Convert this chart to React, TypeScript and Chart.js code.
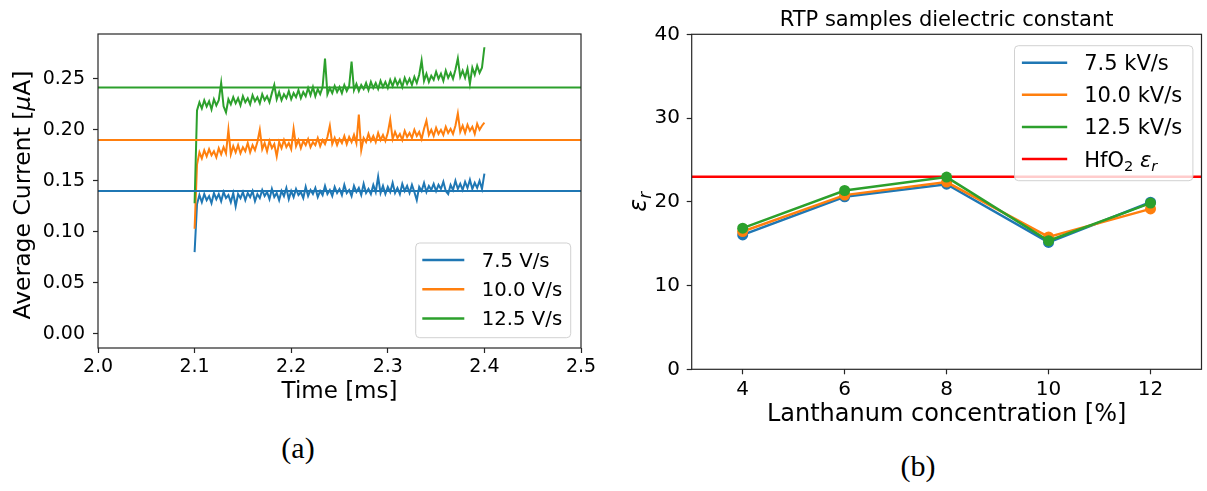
import React, { useEffect, useRef } from "react";
import { Chart, registerables } from "chart.js";
Chart.register(...registerables);

const FONT = '"DejaVu Sans", "Noto Sans", sans-serif';
const COLORS = ["#1f77b4", "#ff7f0e", "#2ca02c"];
const HFO2_COLOR = "#ff0000";
const SPINE = "#262626";

// ---------------- (a) Average current vs time ----------------
const sampleStartMs = 2.1;
const sampleStepMs = 0.0025;
// values in nA (1000 nA = 1 µA)
const current75nA = [
  80, 127, 136, 129, 137, 131, 135, 128, 138, 132,
  137, 130, 139, 133, 136, 129, 138, 125, 137, 133,
  139, 131, 138, 134, 140, 130, 137, 133, 141, 135,
  139, 132, 142, 134, 138, 131, 140, 135, 143, 132,
  140, 134, 142, 136, 139, 133, 144, 135, 141, 137,
  143, 134, 140, 136, 145, 137, 141, 135, 144, 138,
  142, 136, 146, 138, 141, 135, 145, 139, 143, 136,
  147, 138, 142, 137, 146, 139, 154, 138, 145, 137,
  144, 139, 148, 138, 143, 137, 147, 140, 145, 138,
  146, 139, 131, 144, 140, 148, 139, 145, 141, 147,
  140, 146, 142, 149, 140, 137, 146, 141, 150, 142,
  147, 141, 149, 143, 151, 142, 148, 143, 150, 142,
  157,
];
const current100nA = [
  103, 166, 178, 172, 180, 174, 181, 175, 179, 173,
  182, 176, 183, 177, 200, 176, 184, 178, 185, 177,
  183, 179, 187, 178, 185, 180, 188, 200, 181, 187,
  179, 189, 182, 186, 174, 188, 182, 190, 183, 187,
  181, 201, 184, 190, 182, 189, 185, 191, 183, 188,
  185, 192, 184, 190, 186, 193, 204, 186, 192, 185,
  191, 187, 194, 186, 193, 188, 195, 187, 215, 180,
  192, 188, 196, 189, 194, 188, 197, 190, 195, 189,
  197, 210, 191, 198, 192, 196, 190, 199, 193, 197,
  192, 200, 194, 198, 191, 201, 209, 195, 200, 194,
  202, 196, 200, 195, 203, 197, 201, 196, 204, 216,
  198, 204, 197, 205, 199, 203, 196, 206, 200, 204,
  207,
];
const current125nA = [
  128, 219, 227, 221, 229, 223, 228, 220, 230, 224,
  229, 246, 223, 217, 230, 225, 232, 226, 231, 224,
  233, 227, 231, 225, 234, 228, 232, 226, 235, 229,
  233, 227, 236, 244, 230, 237, 229, 235, 231, 238,
  230, 236, 232, 239, 231, 237, 233, 241, 234, 242,
  233, 240, 235, 242, 270, 235, 241, 236, 243, 237,
  242, 236, 244, 238, 243, 267, 239, 245, 238, 244,
  240, 246, 239, 247, 241, 246, 240, 248, 242, 247,
  241, 249, 243, 250, 244, 249, 242, 251, 245, 250,
  244, 252, 246, 254, 268, 248, 255, 247, 253, 249,
  257, 250, 255, 248, 258, 251, 256, 250, 259, 270,
  252, 258, 251, 260, 245, 261, 254, 263, 256, 261,
  281,
];
const meanCurrentUA = [0.14, 0.19, 0.2415];
const rampLabels = ["7.5 V/s", "10.0 V/s", "12.5 V/s"];
const timeTicks = [2.0, 2.1, 2.2, 2.3, 2.4, 2.5];
const currentTicks = [0.0, 0.05, 0.1, 0.15, 0.2, 0.25];
const timeRange = [2.0, 2.5];
const currentRange = [-0.014, 0.294];
const timeTitle = "Time [ms]";
const currentTitle = "Average Current [μA]";

// ---------------- (b) dielectric constant ----------------
const lanthanumPct = [4, 6, 8, 10, 12];
const eps75 = [16.05, 20.6, 22.1, 15.15, 19.95];
const eps100 = [16.45, 20.8, 22.35, 15.8, 19.15];
const eps125 = [16.85, 21.35, 22.95, 15.35, 19.85];
const hfo2Eps = 23.0;
const epsLabels = ["7.5 kV/s", "10.0 kV/s", "12.5 kV/s", "HfO₂ εᵣ"];
const lanthanumTicks = [4, 6, 8, 10, 12];
const epsTicks = [0, 10, 20, 30, 40];
const lanthanumRange = [3, 13];
const epsRange = [0, 40];
const epsChartTitle = "RTP samples dielectric constant";
const lanthanumTitle = "Lanthanum concentration [%]";
const epsAxisTitle = "εᵣ";

const captions = ["(a)", "(b)"];

// ---------------- rich text helpers ----------------
type Part = { t: string; sub: boolean; it: boolean };
function richParts(s: string): Part[] {
  const out: Part[] = [];
  for (const ch of s) {
    let p: Part;
    if (ch === "₂") p = { t: "2", sub: true, it: false };
    else if (ch === "ᵣ") p = { t: "r", sub: true, it: true };
    else if (ch === "ε" || ch === "μ") p = { t: ch, sub: false, it: true };
    else p = { t: ch, sub: false, it: false };
    const last = out[out.length - 1];
    if (last && last.sub === p.sub && last.it === p.it) last.t += p.t;
    else out.push(p);
  }
  return out;
}
function drawRich(ctx: CanvasRenderingContext2D, s: string, x: number, y: number, size: number, align: "left" | "center") {
  const parts = richParts(s);
  const font = (p: Part) => `${p.it ? "italic " : ""}${p.sub ? size * 0.7 : size}px ${FONT}`;
  let total = 0;
  const ws = parts.map((p) => {
    ctx.font = font(p);
    const w = ctx.measureText(p.t).width;
    total += w;
    return w;
  });
  let cx = align === "center" ? x - total / 2 : x;
  ctx.textAlign = "left";
  ctx.textBaseline = "alphabetic";
  parts.forEach((p, i) => {
    ctx.font = font(p);
    ctx.fillText(p.t, cx, y + (p.sub ? size * 0.22 : 0));
    cx += ws[i];
  });
}

const framePlugin = {
  id: "frame",
  afterDatasetsDraw(chart: any) {
    const { ctx, chartArea: a } = chart;
    ctx.save();
    ctx.strokeStyle = SPINE;
    ctx.lineWidth = 1.2;
    ctx.strokeRect(a.left, a.top, a.right - a.left, a.bottom - a.top);
    ctx.restore();
  },
};

type LegendCfg = {
  entries: { label: string; color: string }[];
  w: number; h: number; right: number; top?: number; bottom?: number;
  lineStart: number; lineEnd: number; textX: number; firstRow: number; rowGap: number; fontSize: number;
};
function makeLegend(cfg: LegendCfg) {
  return {
    id: "boxLegend",
    afterDraw(chart: any) {
      const { ctx, chartArea: a } = chart;
      const x = a.right - cfg.right - cfg.w;
      const y = cfg.top !== undefined ? a.top + cfg.top : a.bottom - (cfg.bottom || 0) - cfg.h;
      ctx.save();
      ctx.beginPath();
      ctx.roundRect(x, y, cfg.w, cfg.h, 4);
      ctx.fillStyle = "rgba(255,255,255,0.8)";
      ctx.fill();
      ctx.strokeStyle = "rgba(204,204,204,0.9)";
      ctx.lineWidth = 1;
      ctx.stroke();
      cfg.entries.forEach((e, i) => {
        const ry = y + cfg.firstRow + i * cfg.rowGap;
        ctx.strokeStyle = e.color;
        ctx.lineWidth = 2.5;
        ctx.beginPath();
        ctx.moveTo(x + cfg.lineStart, ry);
        ctx.lineTo(x + cfg.lineEnd, ry);
        ctx.stroke();
        ctx.fillStyle = "#000";
        drawRich(ctx, e.label, x + cfg.textX, ry + 0.36 * cfg.fontSize, cfg.fontSize, "left");
      });
      ctx.restore();
    },
  };
}
function makeYTitle(text: string, baselineX: number, centerOffset: number, size: number) {
  return {
    id: "yTitle",
    afterDraw(chart: any) {
      const { ctx, chartArea: a } = chart;
      ctx.save();
      ctx.translate(baselineX, (a.top + a.bottom) / 2 + centerOffset);
      ctx.rotate(-Math.PI / 2);
      ctx.fillStyle = "#000";
      drawRich(ctx, text, 0, 0, size, "center");
      ctx.restore();
    },
  };
}
function makeAxesTitle(text: string, baselineY: number, size: number) {
  return {
    id: "axesTitle",
    afterDraw(chart: any) {
      const { ctx, chartArea: a } = chart;
      ctx.save();
      ctx.fillStyle = "#000";
      drawRich(ctx, text, (a.left + a.right) / 2, baselineY, size, "center");
      ctx.restore();
    },
  };
}

function axisCommon(size: number, pad: number) {
  return {
    ticks: { color: "#000", font: { family: FONT, size }, padding: pad, maxRotation: 0, autoSkip: false },
    grid: { drawOnChartArea: false, drawTicks: true, tickLength: 5, tickColor: SPINE, tickWidth: 1.2 },
    border: { display: false },
  };
}

function CurrentChart() {
  const ref = useRef<HTMLCanvasElement>(null);
  useEffect(() => {
    const series = [current75nA, current100nA, current125nA];
    const datasets: any[] = [];
    series.forEach((vals, k) => {
      datasets.push({
        label: rampLabels[k],
        data: vals.map((v, i) => ({ x: sampleStartMs + i * sampleStepMs, y: v / 1000 })),
        borderColor: COLORS[k],
        borderWidth: 2,
        pointRadius: 0,
        tension: 0,
        order: 6 - k,
      });
    });
    meanCurrentUA.forEach((m, k) => {
      datasets.push({
        label: rampLabels[k] + " mean",
        data: [{ x: timeRange[0], y: m }, { x: timeRange[1], y: m }],
        borderColor: COLORS[k],
        borderWidth: 2,
        pointRadius: 0,
        order: 3 - k,
      });
    });
    const xc = axisCommon(19, 3);
    const yc = axisCommon(19, 8);
    const chart = new Chart(ref.current!, {
      type: "line",
      data: { datasets },
      options: {
        responsive: false,
        animation: false,
        events: [],
        layout: { padding: { top: 34, right: 19, left: 0, bottom: 0 } },
        plugins: { legend: { display: false }, tooltip: { enabled: false }, title: { display: false } },
        scales: {
          x: {
            type: "linear",
            min: timeRange[0],
            max: timeRange[1],
            ...xc,
            ticks: { ...xc.ticks, callback: (v: any) => Number(v).toFixed(1) },
            afterBuildTicks: (s: any) => { s.ticks = timeTicks.map((v) => ({ value: v })); },
            afterFit: (s: any) => { s.height = 72; },
            title: { display: true, text: timeTitle, color: "#000", font: { family: FONT, size: 23 }, padding: { top: 0, bottom: 14 } },
          },
          y: {
            type: "linear",
            min: currentRange[0],
            max: currentRange[1],
            ...yc,
            ticks: { ...yc.ticks, callback: (v: any) => Number(v).toFixed(2) },
            afterBuildTicks: (s: any) => { s.ticks = currentTicks.map((v) => ({ value: v })); },
            afterFit: (s: any) => { s.width = 98; },
          },
        },
      } as any,
      plugins: [
        framePlugin,
        makeYTitle(currentTitle, 30, 4, 23.5),
        makeLegend({
          entries: rampLabels.map((l, k) => ({ label: l, color: COLORS[k] })),
          w: 155, h: 94.7, right: 10.3, bottom: 10.3,
          lineStart: 6.6, lineEnd: 48.6, textX: 66, firstRow: 17, rowGap: 29.2, fontSize: 19.7,
        }),
      ] as any,
    });
    return () => chart.destroy();
  }, []);
  return <canvas ref={ref} width={600} height={420} style={{ position: "absolute", left: 0, top: 0, width: 600, height: 420 }} />;
}

function EpsChart() {
  const ref = useRef<HTMLCanvasElement>(null);
  useEffect(() => {
    const series = [eps75, eps100, eps125];
    const datasets: any[] = series.map((vals, k) => ({
      label: epsLabels[k],
      data: vals.map((v, i) => ({ x: lanthanumPct[i], y: v })),
      borderColor: COLORS[k],
      backgroundColor: COLORS[k],
      pointBackgroundColor: COLORS[k],
      borderWidth: 2.5,
      pointRadius: 5.5,
      pointBorderWidth: 0,
      tension: 0,
      order: 3 - k,
    }));
    datasets.push({
      label: epsLabels[3],
      data: [{ x: lanthanumRange[0], y: hfo2Eps }, { x: lanthanumRange[1], y: hfo2Eps }],
      borderColor: HFO2_COLOR,
      borderWidth: 2.5,
      pointRadius: 0,
      order: 10,
    });
    const xc = axisCommon(20, 3.5);
    const yc = axisCommon(20, 6.7);
    const chart = new Chart(ref.current!, {
      type: "line",
      data: { datasets },
      options: {
        responsive: false,
        animation: false,
        events: [],
        layout: { padding: { top: 34.3, right: 1.7, left: 0, bottom: 0 } },
        plugins: {
          legend: { display: false },
          tooltip: { enabled: false },
          title: { display: false },
        },
        scales: {
          x: {
            type: "linear",
            min: lanthanumRange[0],
            max: lanthanumRange[1],
            ...xc,
            ticks: { ...xc.ticks, callback: (v: any) => String(v) },
            afterBuildTicks: (s: any) => { s.ticks = lanthanumTicks.map((v) => ({ value: v })); },
            afterFit: (s: any) => { s.height = 70.7; },
            title: { display: true, text: lanthanumTitle, color: "#000", font: { family: FONT, size: 24 }, padding: { top: 0, bottom: 11 } },
          },
          y: {
            type: "linear",
            min: epsRange[0],
            max: epsRange[1],
            ...yc,
            ticks: { ...yc.ticks, callback: (v: any) => String(v) },
            afterBuildTicks: (s: any) => { s.ticks = epsTicks.map((v) => ({ value: v })); },
            afterFit: (s: any) => { s.width = 71.7; },
          },
        },
      } as any,
      plugins: [
        framePlugin,
        makeAxesTitle(epsChartTitle, 26, 21),
        makeYTitle(epsAxisTitle, 26, 0, 24),
        makeLegend({
          entries: epsLabels.map((l, k) => ({ label: l, color: k < 3 ? COLORS[k] : HFO2_COLOR })),
          w: 178.4, h: 135, right: 8.6, top: 11.4,
          lineStart: 7.4, lineEnd: 52.7, textX: 69.7, firstRow: 17, rowGap: 32.1, fontSize: 21,
        }),
      ] as any,
    });
    return () => chart.destroy();
  }, []);
  return <canvas ref={ref} width={587} height={440} style={{ position: "absolute", left: 620, top: 0, width: 587, height: 440 }} />;
}

export default function App() {
  const capStyle: React.CSSProperties = {
    position: "absolute",
    fontFamily: '"Liberation Serif", "DejaVu Serif", serif',
    fontSize: 30,
    lineHeight: "30px",
    color: "#000",
    transform: "translate(-50%, -50%)",
    whiteSpace: "nowrap",
  };
  return (
    <div style={{ position: "absolute", left: 0, top: 0, width: 1207, height: 491, overflow: "hidden", background: "#fff" }}>
      <CurrentChart />
      <EpsChart />
      <div style={{ ...capStyle, left: 298, top: 448 }}>{captions[0]}</div>
      <div style={{ ...capStyle, left: 918, top: 466 }}>{captions[1]}</div>
    </div>
  );
}
